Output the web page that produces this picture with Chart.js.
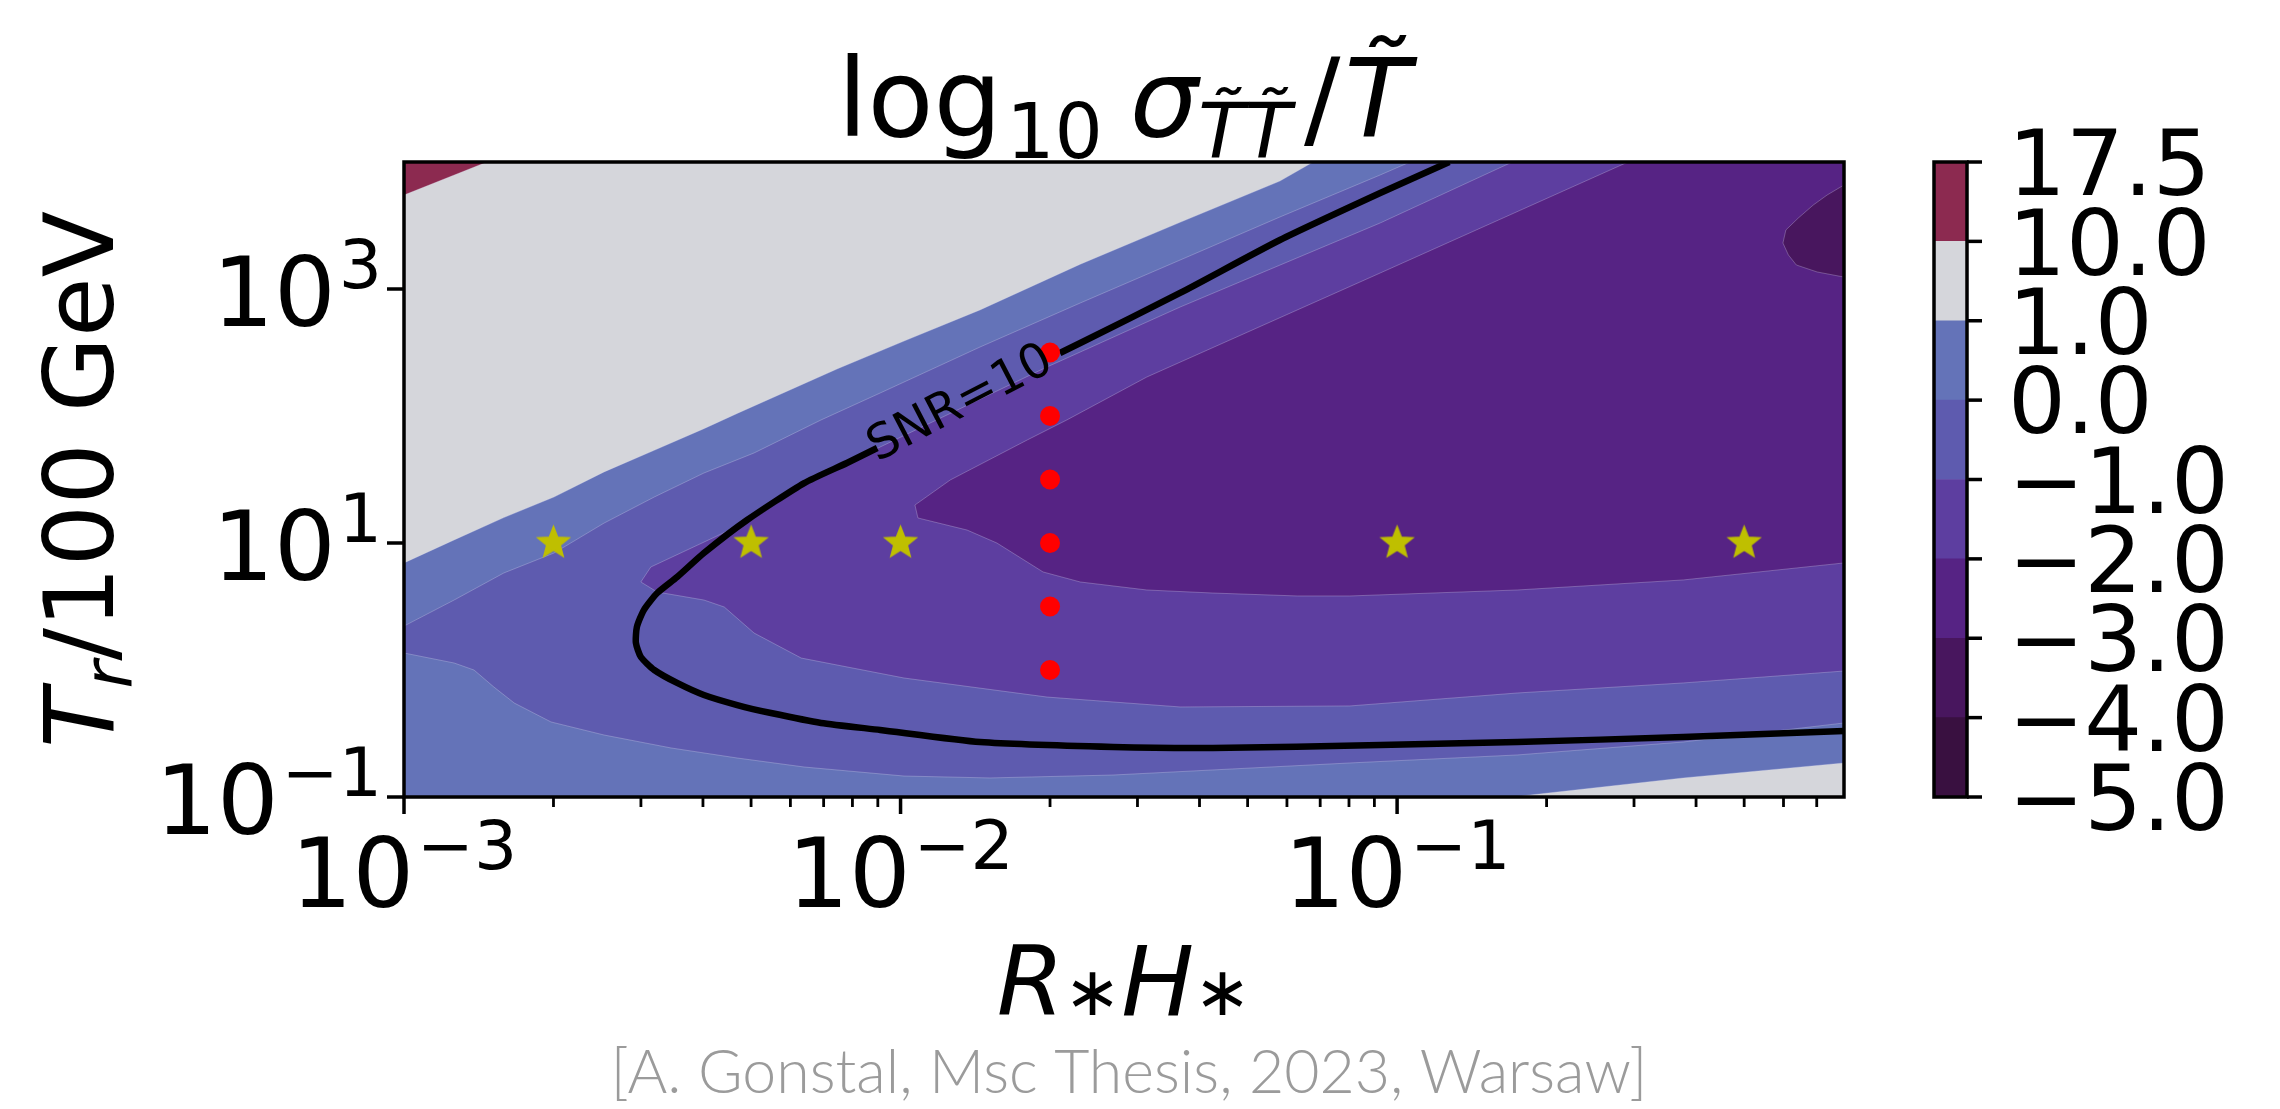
<!DOCTYPE html>
<html lang="en">
<head>
<meta charset="utf-8">
<title>log10 sigma / T over R*H* and Tr</title>
<script src="https://cdn.jsdelivr.net/npm/chart.js@4.4.1/dist/chart.umd.min.js"></script>
<style>
  html, body { margin: 0; padding: 0; background: #ffffff; }
  #stage { position: relative; width: 2280px; height: 1109px; overflow: hidden; }
  #stage canvas { position: absolute; left: 0; top: 0; }
</style>
</head>
<body>
<div id="stage">
  <canvas id="map" width="2280" height="1109"></canvas>
  <canvas id="colorbar" width="2280" height="1109"></canvas>
</div>
<script>
// Axis ranges: R*H* (x) and Tr / 100 GeV (y), both logarithmic
const X_MIN = 1e-3, X_MAX = Math.pow(10, -0.1);
const Y_MIN = 1e-1, Y_MAX = 1e4;

// Contour levels of log10 sigma/T and the fill colour of each band (low to high)
const levels = [-5, -4, -3, -2, -1, 0, 1, 10, 17.5];
const bandColors = ['#391040', '#48165e', '#562384', '#5d3ea0', '#5e5baf', '#6473b8', '#d5d6db', '#8c2a50'];

// Contour edges, vertices given as [log10(R*H*), log10(Tr/100 GeV)]
const edgeLevel10 = [[-3.000, 3.740], [-2.833, 4.000]];
const edgeLevel1Upper = [[-3.000, 0.843], [-2.899, 1.024], [-2.799, 1.200], [-2.698, 1.362], [-2.597, 1.560], [-2.496, 1.730], [-2.396, 1.900], [-2.329, 2.020], [-2.128, 2.370], [-1.993, 2.590], [-1.840, 2.835], [-1.638, 3.195], [-1.437, 3.525], [-1.236, 3.850], [-1.169, 4.000]];
const edgeLevel1Lower = [[-0.768, -1.000], [-0.424, -0.850], [-0.100, -0.732]];
const edgeLevel0Upper = [[-3.000, 0.346], [-2.899, 0.551], [-2.799, 0.764], [-2.698, 0.921], [-2.597, 1.157], [-2.496, 1.362], [-2.396, 1.551], [-2.295, 1.709], [-2.160, 1.969], [-2.041, 2.181], [-1.840, 2.543], [-1.638, 2.890], [-1.437, 3.228], [-1.236, 3.567], [-1.034, 3.898], [-0.974, 4.000]];
const edgeLevel0Lower = [[-3.000, 0.134], [-2.899, 0.055], [-2.859, 0.000], [-2.819, -0.134], [-2.778, -0.260], [-2.704, -0.409], [-2.597, -0.512], [-2.462, -0.614], [-2.329, -0.693], [-2.194, -0.764], [-1.993, -0.835], [-1.820, -0.850], [-1.572, -0.827], [-1.371, -0.787], [-1.095, -0.732], [-0.758, -0.669], [-0.424, -0.567], [-0.100, -0.417]];
const edgeLevelM1 = [[-0.768, 4.000], [-1.034, 3.520], [-1.437, 2.858], [-1.705, 2.386], [-2.041, 1.756], [-2.200, 1.441], [-2.301, 1.181], [-2.503, 0.811], [-2.523, 0.693], [-2.490, 0.614], [-2.396, 0.551], [-2.355, 0.496], [-2.295, 0.291], [-2.200, 0.094], [-1.993, -0.063], [-1.705, -0.213], [-1.437, -0.291], [-1.095, -0.283], [-0.758, -0.181], [-0.424, -0.102], [-0.100, -0.008]];
const edgeLevelM2 = [[-0.535, 4.000], [-1.034, 3.126], [-1.504, 2.307], [-1.665, 1.969], [-1.745, 1.811], [-1.900, 1.496], [-1.971, 1.299], [-1.965, 1.197], [-1.866, 1.102], [-1.806, 1.000], [-1.713, 0.772], [-1.638, 0.693], [-1.504, 0.630], [-1.371, 0.606], [-1.201, 0.583], [-1.095, 0.583], [-0.758, 0.630], [-0.424, 0.709], [-0.100, 0.843]];
const edgeLevelM3 = [[-0.100, 3.819], [-0.134, 3.740], [-0.162, 3.661], [-0.192, 3.559], [-0.217, 3.465], [-0.223, 3.362], [-0.212, 3.268], [-0.196, 3.189], [-0.154, 3.134], [-0.100, 3.094]];

// SNR = 10 contour, split where its inline label sits
const snrUpper = [[-0.895, 4.000], [-1.034, 3.756], [-1.236, 3.386], [-1.437, 2.969], [-1.638, 2.575], [-1.679, 2.496]];
const snrLower = [[-2.047, 1.748], [-2.108, 1.630], [-2.194, 1.472], [-2.309, 1.181], [-2.396, 0.921], [-2.450, 0.732], [-2.490, 0.606], [-2.517, 0.472], [-2.531, 0.339], [-2.533, 0.213], [-2.523, 0.102], [-2.496, 0.000], [-2.450, -0.102], [-2.396, -0.197], [-2.329, -0.276], [-2.261, -0.339], [-2.160, -0.417], [-2.041, -0.472], [-1.840, -0.567], [-1.572, -0.606], [-1.371, -0.614], [-1.034, -0.591], [-0.758, -0.567], [-0.424, -0.528], [-0.100, -0.480]];
const snrLabel = 'SNR=10';

// Benchmark points (stars) and the vertical scan (red dots)
const starX = [0.002, 0.005, 0.01, 0.1, 0.5];
const starY = 10;
const dotX = 0.02;
const dotY = [1, 3.16, 10, 31.6, 100, 316];

// Tick decades
const xTickExps = [-3, -2, -1];
const yTickExps = [-1, 1, 3];

// ---------------------------------------------------------------------------
const LX0 = Math.log10(X_MIN), LX1 = Math.log10(X_MAX);
const LY0 = Math.log10(Y_MIN), LY1 = Math.log10(Y_MAX);
const FAMILY = '"DejaVu Sans"';
const sans = (px, italic) => `${italic ? 'italic ' : ''}${px}px ${FAMILY}`;
const F_TICK = 97, F_CBAR = 91, F_LABEL = 97, F_TITLE = 108, F_CLABEL = 48;

const toPoints = verts => verts.map(([lx, ly]) => ({ x: Math.pow(10, lx), y: Math.pow(10, ly) }));

// Filled sub-level regions, painted from the outermost level inwards
const regionAll = [[LX0, LY0], [LX0, LY1], [LX1, LY1], [LX1, LY0]];
const regionAbove10 = [[LX0, LY1], ...edgeLevel10];
const regionBelow1 = [[LX0, LY0], ...edgeLevel1Upper, [LX1, LY1], ...edgeLevel1Lower.slice().reverse()];
const regionBelow0 = [...edgeLevel0Upper, [LX1, LY1], ...edgeLevel0Lower.slice().reverse()];
const regionBelowM1 = [...edgeLevelM1, [LX1, LY1]];
const regionBelowM2 = [...edgeLevelM2, [LX1, LY1]];
const regionBelowM3 = [...edgeLevelM3];

const region = (label, verts, color, order, seam) => ({
  label,
  data: toPoints(verts),
  fill: 'shape',
  backgroundColor: color,
  borderColor: seam ? 'rgba(225,225,245,0.28)' : 'rgba(0,0,0,0)',
  borderWidth: seam ? 1 : 0,
  pointRadius: 0,
  pointHoverRadius: 0,
  tension: 0,
  order
});

// Star marker bitmap
function starMarker(r, color) {
  const size = Math.ceil(2 * r + 6);
  const c = document.createElement('canvas');
  c.width = c.height = size;
  const g = c.getContext('2d');
  g.translate(size / 2, size / 2);
  g.beginPath();
  for (let i = 0; i < 10; i++) {
    const rr = i % 2 ? r * 0.43 : r;
    const a = -Math.PI / 2 + i * Math.PI / 5;
    g.lineTo(rr * Math.cos(a), rr * Math.sin(a));
  }
  g.closePath();
  g.fillStyle = color;
  g.fill();
  g.lineWidth = 1.5;
  g.strokeStyle = color;
  g.stroke();
  return c;
}

const datasets = [
  region('1 … 10', regionAll, bandColors[6], 30, false),
  region('10 … 17.5', regionAbove10, bandColors[7], 29, true),
  region('0 … 1', regionBelow1, bandColors[5], 28, true),
  region('−1 … 0', regionBelow0, bandColors[4], 27, true),
  region('−2 … −1', regionBelowM1, bandColors[3], 26, true),
  region('−3 … −2', regionBelowM2, bandColors[2], 25, true),
  region('−4 … −3', regionBelowM3, bandColors[1], 24, true),
  { label: snrLabel, data: toPoints(snrUpper), borderColor: '#000000', borderWidth: 6.5, fill: false, pointRadius: 0, tension: 0.2, order: 5, borderJoinStyle: 'round' },
  { label: snrLabel, data: toPoints(snrLower), borderColor: '#000000', borderWidth: 6.5, fill: false, pointRadius: 0, tension: 0.2, order: 5, borderJoinStyle: 'round' },
  { label: 'benchmarks', data: starX.map(x => ({ x, y: starY })), showLine: false, pointStyle: starMarker(16.5, '#bfbf00'), pointRadius: 17, order: 2 },
  { label: 'scan', data: dotY.map(y => ({ x: dotX, y })), showLine: false, pointStyle: 'circle', pointRadius: 10, backgroundColor: '#ff0000', borderWidth: 0, order: 1 }
];

// Sequence of text runs on one baseline
function drawRuns(ctx, runs, x, y, align) {
  let total = 0;
  runs.forEach(r => { ctx.font = r.f; r.w = ctx.measureText(r.t).width; total += r.w + (r.gap || 0); });
  let cx = align === 'center' ? x - total / 2 : align === 'right' ? x - total : x;
  ctx.textAlign = 'left';
  ctx.textBaseline = 'alphabetic';
  runs.forEach(r => { ctx.font = r.f; ctx.fillText(r.t, cx, y + (r.dy || 0)); cx += r.w + (r.gap || 0); });
}

function powerLabel(ctx, exp, x, y, align) {
  const e = (exp < 0 ? '\u2212' : '') + Math.abs(exp);
  drawRuns(ctx, [
    { t: '10', f: sans(F_TICK), gap: 3 },
    { t: e, f: sans(Math.round(F_TICK * 0.7)), dy: -F_TICK * 0.39 }
  ], x, y, align);
}

const mapDecor = {
  id: 'mapDecor',
  afterDatasetsDraw(chart) {
    const { ctx, scales: { x: xs, y: ys } } = chart;
    const px = ([lx, ly]) => ({ x: xs.getPixelForValue(Math.pow(10, lx)), y: ys.getPixelForValue(Math.pow(10, ly)) });
    const a = px(snrLower[0]);
    const b = px(snrUpper[snrUpper.length - 1]);
    ctx.save();
    ctx.translate((a.x + b.x) / 2 - 8, (a.y + b.y) / 2 + 4);
    ctx.rotate(Math.atan2(b.y - a.y, b.x - a.x));
    ctx.fillStyle = '#000000';
    ctx.font = sans(F_CLABEL);
    ctx.textAlign = 'center';
    ctx.textBaseline = 'middle';
    ctx.fillText(snrLabel, 0, 0);
    ctx.restore();
  },
  afterDraw(chart) {
    const { ctx, chartArea: ar, scales: { x: xs, y: ys } } = chart;
    ctx.save();
    ctx.strokeStyle = '#000000';
    ctx.fillStyle = '#000000';
    ctx.lineCap = 'butt';

    // x ticks: decades plus 2..9 minor marks
    xTickExps.forEach(e => {
      for (let m = 1; m <= 9; m++) {
        const v = m * Math.pow(10, e);
        if (v < X_MIN || v > X_MAX * 0.999) continue;
        const p = xs.getPixelForValue(v);
        ctx.lineWidth = m === 1 ? 3.5 : 2.8;
        ctx.beginPath();
        ctx.moveTo(p, ar.bottom);
        ctx.lineTo(p, ar.bottom + (m === 1 ? 17 : 10));
        ctx.stroke();
      }
    });
    yTickExps.forEach(e => {
      const p = ys.getPixelForValue(Math.pow(10, e));
      ctx.lineWidth = 3.5;
      ctx.beginPath();
      ctx.moveTo(ar.left, p);
      ctx.lineTo(ar.left - 17, p);
      ctx.stroke();
    });

    // frame
    ctx.lineWidth = 3.5;
    ctx.strokeRect(ar.left, ar.top, ar.right - ar.left, ar.bottom - ar.top);

    // tick labels
    xTickExps.forEach(e => powerLabel(ctx, e, xs.getPixelForValue(Math.pow(10, e)), 907, 'center'));
    yTickExps.forEach(e => powerLabel(ctx, e, 382, ys.getPixelForValue(Math.pow(10, e)) + 37, 'right'));

    const cx = (ar.left + ar.right) / 2;
    const S = 0.7;

    // title
    drawRuns(ctx, [
      { t: 'log', f: sans(F_TITLE), gap: 4 },
      { t: '10', f: sans(Math.round(F_TITLE * S)), dy: F_TITLE * 0.2, gap: F_TITLE * 0.25 },
      { t: 'σ', f: sans(F_TITLE, true) },
      { t: 'T\u0303T\u0303', f: sans(Math.round(F_TITLE * S), true), dy: F_TITLE * 0.2, gap: F_TITLE * 0.12 },
      { t: '/', f: sans(F_TITLE), gap: 4 },
      { t: 'T\u0303', f: sans(F_TITLE, true) }
    ], cx, 136, 'center');

    // x label
    drawRuns(ctx, [
      { t: 'R', f: sans(F_LABEL, true) },
      { t: '\u2217', f: sans(Math.round(F_LABEL * S)), dy: 0 },
      { t: 'H', f: sans(F_LABEL, true) },
      { t: '\u2217', f: sans(Math.round(F_LABEL * S)), dy: 0 }
    ], cx, 1015, 'center');

    // y label
    ctx.save();
    ctx.translate(113, (ar.top + ar.bottom) / 2);
    ctx.rotate(-Math.PI / 2);
    drawRuns(ctx, [
      { t: 'T', f: sans(F_LABEL, true) },
      { t: 'r', f: sans(Math.round(F_LABEL * S), true), dy: F_LABEL * 0.2 },
      { t: '/100 GeV', f: sans(F_LABEL) }
    ], 0, 0, 'center');
    ctx.restore();

    // credit line
    const credit = '[A. Gonstal, Msc Thesis, 2023, Warsaw]';
    ctx.font = '300 100px Lato, "Open Sans", sans-serif';
    const w100 = ctx.measureText(credit).width;
    const fs = 100 * 1036 / w100;
    ctx.font = `300 ${fs.toFixed(1)}px Lato, "Open Sans", sans-serif`;
    ctx.fillStyle = '#9b9b9b';
    ctx.textAlign = 'center';
    ctx.textBaseline = 'alphabetic';
    ctx.fillText(credit, 1129, 1093);
    ctx.restore();
  }
};

new Chart(document.getElementById('map'), {
  type: 'line',
  data: { datasets },
  options: {
    responsive: false,
    animation: false,
    devicePixelRatio: 1,
    events: [],
    layout: { padding: { left: 404, right: 2280 - 1844, top: 162, bottom: 1109 - 797 } },
    scales: {
      x: { type: 'logarithmic', min: X_MIN, max: X_MAX, display: false },
      y: { type: 'logarithmic', min: Y_MIN, max: Y_MAX, display: false }
    },
    plugins: { legend: { display: false }, tooltip: { enabled: false } }
  },
  plugins: [mapDecor]
});

// Colour bar: one stacked bar, one equal-height block per band
const levelText = v => (v < 0 ? '\u2212' : '') + Math.abs(v).toFixed(1);
const colorbarDecor = {
  id: 'colorbarDecor',
  afterDraw(chart) {
    const { ctx, chartArea: ar, scales: { y } } = chart;
    ctx.save();
    ctx.strokeStyle = '#000000';
    ctx.fillStyle = '#000000';
    ctx.lineWidth = 3.5;
    ctx.strokeRect(ar.left, ar.top, ar.right - ar.left, ar.bottom - ar.top);
    ctx.font = sans(F_CBAR);
    ctx.textAlign = 'left';
    ctx.textBaseline = 'alphabetic';
    levels.forEach((lv, i) => {
      const p = y.getPixelForValue(i);
      ctx.beginPath();
      ctx.moveTo(ar.right, p);
      ctx.lineTo(ar.right + 15, p);
      ctx.stroke();
      ctx.fillText(levelText(lv), 2008, p + F_CBAR * 0.365);
    });
    ctx.restore();
  }
};

new Chart(document.getElementById('colorbar'), {
  type: 'bar',
  data: {
    labels: ['log10 σ/T'],
    datasets: bandColors.map((c, i) => ({
      label: `${levelText(levels[i])} … ${levelText(levels[i + 1])}`,
      data: [1],
      backgroundColor: c,
      borderWidth: 0,
      barPercentage: 1,
      categoryPercentage: 1,
      stack: 'bar'
    }))
  },
  options: {
    responsive: false,
    animation: false,
    devicePixelRatio: 1,
    events: [],
    layout: { padding: { left: 1934, right: 2280 - 1967, top: 162, bottom: 1109 - 797 } },
    scales: {
      x: { stacked: true, display: false },
      y: { stacked: true, display: false, min: 0, max: levels.length - 1 }
    },
    plugins: { legend: { display: false }, tooltip: { enabled: false } }
  },
  plugins: [colorbarDecor]
});
</script>
</body>
</html>
